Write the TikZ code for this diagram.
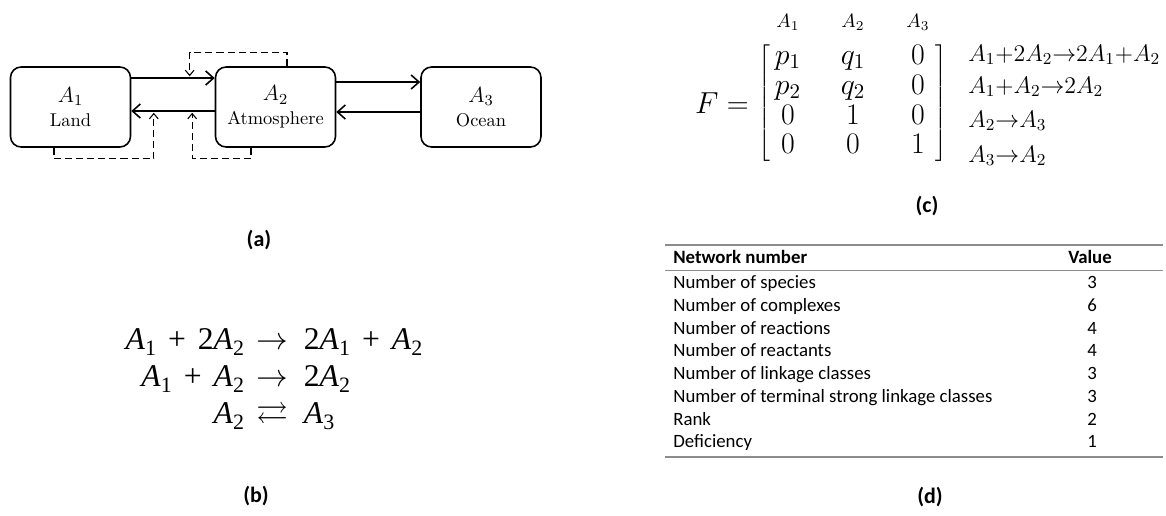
\documentclass[tikz,border=0pt]{standalone}
\usepackage{fix-cm}
\usepackage{amsmath}
\usepackage{amssymb}
\usepackage{fontspec}
\usetikzlibrary{arrows.meta,matrix}
\newfontfamily\calib{Carlito}
\newfontfamily\tms{Liberation Serif}
\definecolor{regel}{HTML}{8C8C8C}
\newcommand{\tA}[1]{\textit{A}\raisebox{-0.2em}{\fontsize{12.5}{12.5}\selectfont #1}}
\newcommand{\tpl}{\hspace{0.38em}+\hspace{0.38em}}
\tikzset{
  box/.style={draw,line width=0.9pt,rounded corners=6pt,minimum width=2.4cm,minimum height=1.6cm,align=center,inner sep=0pt},
  flow/.style={-{Straight Barb[length=4.5pt,width=8pt]},line width=0.9pt},
  ctrl/.style={-{Straight Barb[length=3pt,width=5pt]},dash pattern=on 4pt off 2.3pt,line width=0.6pt,shorten >=1pt},
  lbl/.style={font=\calib\bfseries\fontsize{12.5}{15}\selectfont},
  rxn/.style={anchor=west,inner sep=0pt,font=\fontsize{13.6}{15}\selectfont},
  hdr/.style={inner sep=0pt,font=\fontsize{11}{13}\selectfont},
  tabtxt/.style={anchor=west,inner sep=0pt,text height=8pt,text depth=2.5pt,font=\calib\fontsize{10.7}{13}\selectfont},
  tabval/.style={inner sep=0pt,text height=8pt,text depth=2.5pt,font=\calib\fontsize{10.7}{13}\selectfont},
  tabrule/.style={regel,line width=0.7pt},
}

\begin{document}
\begin{tikzpicture}[x=0.02cm,y=-0.02cm]
  \useasboundingbox (0,0) rectangle (1166,515);
  % (a) carbon boxes
  \node[box] (a1) at (70.5,107) {\fontsize{12.5}{15}\selectfont$A_1$\\[1.5pt]\fontsize{10.5}{12}\selectfont Land};
  \node[box] (a2) at (275.5,107) {\fontsize{12.5}{15}\selectfont$A_2$\\[1.5pt]\fontsize{10.5}{12}\selectfont Atmosphere};
  \node[box] (a3) at (481,107) {\fontsize{12.5}{15}\selectfont$A_3$\\[1.5pt]\fontsize{10.5}{12}\selectfont Ocean};
  \draw[flow] (a1.east |- 0,78) -- coordinate[pos=0.7] (k1) (a2.west |- 0,78);
  \draw[flow] (a2.west |- 0,111) -- coordinate[pos=0.73] (k2) coordinate[pos=0.27] (k3) (a1.east |- 0,111);
  \draw[flow] (a2.east |- 0,82) -- (a3.west |- 0,82);
  \draw[flow] (a3.west |- 0,112) -- (a2.east |- 0,112);
  \draw[ctrl] (a2.north -| 287,0) -- ++(0,-14) -| (k1);
  \draw[ctrl] (a1.south -| 54,0) -- ++(0,11) -| (k2);
  \draw[ctrl] (a2.south -| 251,0) -- ++(0,11) -| (k3);
  \node[lbl] (la) at (259,240) {(a)};

  % (b) reactions
  \node[font=\tms\fontsize{18}{21}\selectfont] (eqs) at (274,379) {%
    \begin{tabular}{@{}r@{\hspace{7pt}}c@{\hspace{9pt}}l@{}}
      \tA1\tpl 2\tA2 & $\rightarrow$ & 2\tA1\tpl\tA2\\
      \tA1\tpl\tA2 & $\rightarrow$ & 2\tA2\\
      \tA2 & $\rightleftarrows$ & \tA3
    \end{tabular}};
  \node[lbl] (lb) at (256,496) {(b)};

  % (c) matrix F
  \node (feq) at (722,103) {\fontsize{17.28}{20}\selectfont$F=$};
  \matrix (fm) [matrix of math nodes,left delimiter={[},right delimiter={]},
    inner sep=0pt,column sep=20pt,font=\fontsize{17}{19}\selectfont,
    nodes={minimum width=17pt,text height=11pt,text depth=4pt,inner sep=1pt,font=\fontsize{17}{19}\selectfont}]
    at (853,103) {
    p_1 & q_1 & 0\\
    p_2 & q_2 & 0\\
    0 & 1 & 0\\
    0 & 0 & 1\\
  };
  \node[hdr] (h1) at (fm-1-1 |- 0,22) {$A_1$};
  \node[hdr] (h2) at (fm-1-2 |- 0,22) {$A_2$};
  \node[hdr] (h3) at (fm-1-3 |- 0,22) {$A_3$};
  \node[rxn] (r1) at (968,55) {$A_1{+}2A_2{\rightarrow}2A_1{+}A_2$};
  \node[rxn] (r2) at (968,87) {$A_1{+}A_2{\rightarrow}2A_2$};
  \node[rxn] (r3) at (968,121) {$A_2{\rightarrow}A_3$};
  \node[rxn] (r4) at (968,156) {$A_3{\rightarrow}A_2$};
  \node[lbl] (lc) at (927,206) {(c)};

  % (d) network numbers
  \draw[tabrule] (665,245) -- (1163,245);
  \draw[tabrule,line width=0.5pt] (665,270.5) -- (1163,270.5);
  \draw[tabrule] (665,457) -- (1163,457);
  \node[tabtxt] (t0) at (673,259) {\bfseries Network number};
  \node[tabval] (v0) at (1090,259) {\bfseries Value};
  \node[tabtxt] (t1) at (673,284) {Number of species};
  \node[tabval] (v1) at (1092,284) {3};
  \node[tabtxt] (t2) at (673,306.7) {Number of complexes};
  \node[tabval] (v2) at (1092,306.7) {6};
  \node[tabtxt] (t3) at (673,329.4) {Number of reactions};
  \node[tabval] (v3) at (1092,329.4) {4};
  \node[tabtxt] (t4) at (673,352.1) {Number of reactants};
  \node[tabval] (v4) at (1092,352.1) {4};
  \node[tabtxt] (t5) at (673,374.8) {Number of linkage classes};
  \node[tabval] (v5) at (1092,374.8) {3};
  \node[tabtxt] (t6) at (673,397.5) {Number of terminal strong linkage classes};
  \node[tabval] (v6) at (1092,397.5) {3};
  \node[tabtxt] (t7) at (673,420.2) {Rank};
  \node[tabval] (v7) at (1092,420.2) {2};
  \node[tabtxt] (t8) at (673,442.9) {Deficiency};
  \node[tabval] (v8) at (1092,442.9) {1};
  \node[lbl] (ld) at (930,497) {(d)};
\end{tikzpicture}
\end{document}
